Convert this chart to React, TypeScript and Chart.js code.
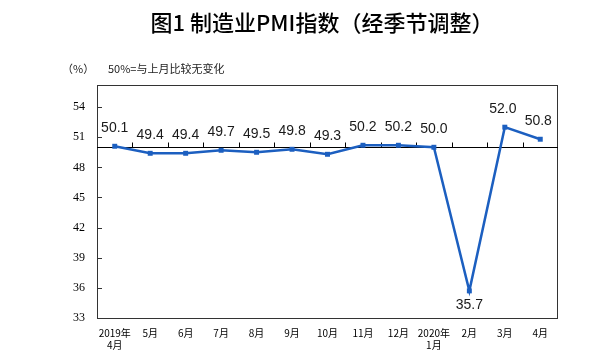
import React, { useEffect, useRef } from "react";
import { Chart, registerables } from "chart.js";

Chart.register(...registerables);

const TITLE = "图1 制造业PMI指数（经季节调整）";
const UNIT = "（%）";
const NOTE = "50%=与上月比较无变化";
const CATEGORIES: (string | string[])[] = [
  ["2019年", "4月"], "5月", "6月", "7月", "8月", "9月", "10月", "11月", "12月",
  ["2020年", "1月"], "2月", "3月", "4月",
];
const PMI = [50.1, 49.4, 49.4, 49.7, 49.5, 49.8, 49.3, 50.2, 50.2, 50.0, 35.7, 52.0, 50.8];
const Y_TICKS = [33, 36, 39, 42, 45, 48, 51, 54];
const BASELINE = 50;

const LINE_COLOR = "#1c5fc0";
const FRAME_COLOR = "#333";

const decorPlugin = {
  id: "decor",
  beforeDatasetsDraw(chart: any) {
    const { ctx, chartArea } = chart;
    const y = chart.scales.y;
    ctx.save();
    ctx.strokeStyle = FRAME_COLOR;
    ctx.lineWidth = 1;
    ctx.strokeRect(
      Math.round(chartArea.left) + 0.5,
      Math.round(chartArea.top) + 0.5,
      Math.round(chartArea.right - chartArea.left) - 1,
      Math.round(chartArea.bottom - chartArea.top)
    );
    ctx.beginPath();
    Y_TICKS.forEach((v) => {
      const py = Math.round(y.getPixelForValue(v)) + 0.5;
      ctx.moveTo(chartArea.left, py);
      ctx.lineTo(chartArea.left + 5, py);
    });
    ctx.stroke();
    const by = Math.round(y.getPixelForValue(BASELINE)) + 0.5;
    ctx.strokeStyle = "#000";
    ctx.beginPath();
    ctx.moveTo(chartArea.left, by);
    ctx.lineTo(chartArea.right, by);
    const n = CATEGORIES.length;
    const w = (chartArea.right - chartArea.left) / n;
    for (let i = 1; i < n; i++) {
      const px = Math.round(chartArea.left + i * w) + 0.5;
      ctx.moveTo(px, by);
      ctx.lineTo(px, by - 5);
    }
    ctx.stroke();
    ctx.restore();
  },
  afterDatasetsDraw(chart: any) {
    const { ctx } = chart;
    const meta = chart.getDatasetMeta(0);
    ctx.save();
    ctx.font = '14px "Liberation Sans", Arial, sans-serif';
    ctx.fillStyle = "#1a1a1a";
    ctx.textAlign = "center";
    ctx.textBaseline = "middle";
    meta.data.forEach((pt: any, i: number) => {
      const v = PMI[i];
      const below = v < 40;
      ctx.fillText(v.toFixed(1), pt.x - (i >= 11 ? 2 : 0), pt.y + (below ? 14 : -18));
    });
    ctx.restore();
  },
  afterDraw(chart: any) {
    const { ctx } = chart;
    ctx.save();
    ctx.fillStyle = "#000";
    ctx.textBaseline = "middle";
    ctx.textAlign = "center";
    ctx.font = '500 22px "Noto Sans CJK SC", sans-serif';
    ctx.fillText(TITLE, 322, 23);
    ctx.textAlign = "left";
    ctx.font = '11px "Noto Sans CJK SC", sans-serif';
    ctx.fillStyle = "#222";
    ctx.fillText(UNIT, 62, 69);
    ctx.fillText(NOTE, 108, 69);
    ctx.restore();
  },
};

export default function App() {
  const ref = useRef<HTMLCanvasElement | null>(null);
  useEffect(() => {
    if (!ref.current) return;
    const chart = new Chart(ref.current, {
      type: "line",
      data: {
        labels: CATEGORIES as any,
        datasets: [
          {
            data: PMI,
            borderColor: LINE_COLOR,
            backgroundColor: LINE_COLOR,
            borderWidth: 2.5,
            pointStyle: "rect",
            pointRadius: 3.5,
            pointBorderWidth: 0,
            tension: 0,
          },
        ],
      },
      options: {
        responsive: false,
        animation: false,
        layout: { padding: { top: 85, right: 58, left: 0, bottom: 0 } },
        plugins: { legend: { display: false }, tooltip: { enabled: false }, title: { display: false } },
        scales: {
          x: {
            type: "category",
            offset: true,
            grid: { display: false },
            border: { display: false },
            ticks: {
              autoSkip: false,
              maxRotation: 0,
              minRotation: 0,
              padding: 1,
              color: "#000",
              font: { family: '"Noto Sans CJK SC", sans-serif', size: 10, lineHeight: 1.2 },
            },
            afterFit: (s: any) => {
              s.height = 34;
            },
          },
          y: {
            min: 33,
            max: 56.2,
            grid: { display: false },
            border: { display: false },
            afterBuildTicks: (s: any) => {
              s.ticks = Y_TICKS.map((v) => ({ value: v }));
            },
            ticks: {
              padding: 4,
              color: "#000",
              font: { family: '"Liberation Serif", serif', size: 12 },
            },
            afterFit: (s: any) => {
              s.width = 97;
            },
          },
        },
      },
      plugins: [decorPlugin],
    });
    return () => chart.destroy();
  }, []);
  return (
    <canvas
      ref={ref}
      width={616}
      height={352}
      style={{ position: "absolute", left: 0, top: 0, width: 616, height: 352 }}
    />
  );
}
